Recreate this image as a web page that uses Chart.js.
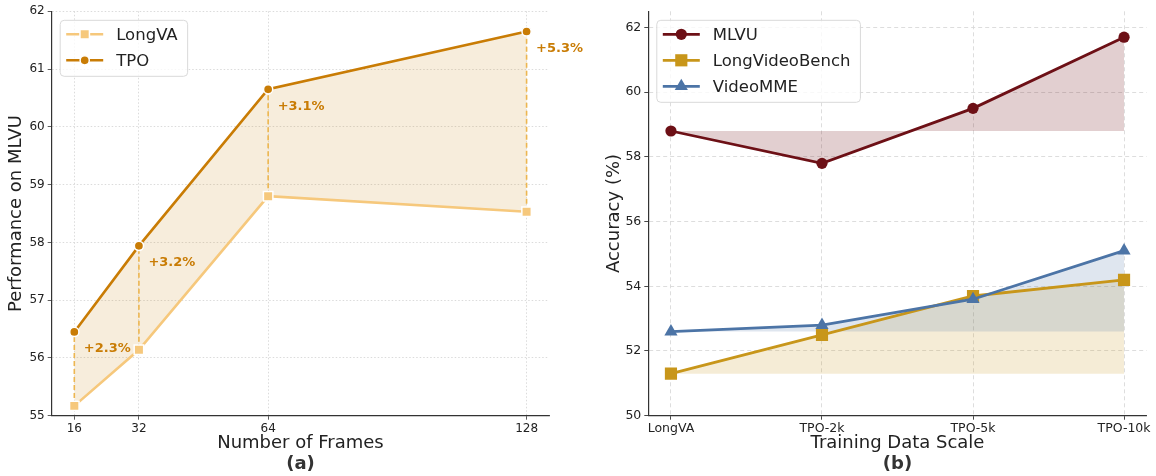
<!DOCTYPE html>
<html>
<head>
<meta charset="utf-8">
<script src="https://cdn.jsdelivr.net/npm/chart.js@4.4.1/dist/chart.umd.min.js"></script>
<style>
  html, body { margin: 0; padding: 0; background: #fff; }
  #wrap { position: relative; width: 1156px; height: 476px; }
  canvas { position: absolute; top: 0; }
  #chartA { left: 0; z-index: 2; }
  #chartB { left: 578px; z-index: 1; }
</style>
</head>
<body>
<div id="wrap">
  <canvas id="chartA" width="610" height="476"></canvas>
  <canvas id="chartB" width="578" height="476"></canvas>
</div>
<script>
// (a) number of frames
const frames = [16, 32, 64, 128];
const longvaScores = [55.17, 56.14, 58.8, 58.53];
const tpoScores = [56.45, 57.94, 60.65, 61.65];
const gainLabels = ["+2.3%", "+3.2%", "+3.1%", "+5.3%"];

// (b) training data scale
const scaleLabels = ["LongVA", "TPO-2k", "TPO-5k", "TPO-10k"];
const mlvuScores = [58.8, 57.8, 59.5, 61.7];
const longVideoBenchScores = [51.3, 52.5, 53.7, 54.2];
const videoMMEScores = [52.6, 52.8, 53.6, 55.1];

Chart.defaults.font.family = "'DejaVu Sans', sans-serif";
Chart.defaults.color = "#222";

function marker(ctx, style, r, x, y) {
  ctx.beginPath();
  if (style === "rect") {
    const s = r * Math.SQRT1_2;
    ctx.rect(x - s, y - s, 2 * s, 2 * s);
  } else if (style === "triangle") {
    let a = 0;
    ctx.moveTo(x + Math.sin(a) * r, y - Math.cos(a) * r);
    a += 2 * Math.PI / 3;
    ctx.lineTo(x + Math.sin(a) * r, y - Math.cos(a) * r);
    a += 2 * Math.PI / 3;
    ctx.lineTo(x + Math.sin(a) * r, y - Math.cos(a) * r);
    ctx.closePath();
  } else {
    ctx.arc(x, y, r, 0, Math.PI * 2);
  }
}

// legend box drawn inside the plot, top left
const insideLegend = {
  id: "insideLegend",
  afterDraw(chart) {
    const ctx = chart.ctx;
    const area = chart.chartArea;
    const items = chart.data.datasets;
    const x0 = area.left + 8.5, y0 = area.top + 9;
    ctx.save();
    ctx.font = "16.5px 'DejaVu Sans'";
    const textW = Math.max(...items.map(d => ctx.measureText(d.label).width));
    const w = 56 + textW + 10, h = items.length * 26 + 4;
    ctx.beginPath();
    ctx.roundRect(x0, y0, w, h, 4);
    ctx.fillStyle = "rgba(255,255,255,0.8)";
    ctx.fill();
    ctx.strokeStyle = "#d9d9d9";
    ctx.lineWidth = 1;
    ctx.stroke();
    items.forEach((d, i) => {
      const cy = y0 + 14 + i * 26;
      ctx.beginPath();
      ctx.moveTo(x0 + 6, cy);
      ctx.lineTo(x0 + 43, cy);
      ctx.strokeStyle = d.borderColor;
      ctx.lineWidth = d.borderWidth;
      ctx.stroke();
      marker(ctx, d.pointStyle, d.pointRadius, x0 + 24.5, cy);
      ctx.fillStyle = d.pointBackgroundColor;
      ctx.fill();
      if (d.pointBorderWidth > 0) {
        ctx.strokeStyle = d.pointBorderColor;
        ctx.lineWidth = d.pointBorderWidth;
        ctx.stroke();
      }
      ctx.fillStyle = "#222";
      ctx.textAlign = "left";
      ctx.textBaseline = "middle";
      ctx.fillText(d.label, x0 + 56, cy + 1);
    });
    ctx.restore();
  }
};

// dashed gap lines + gain labels for (a)
const gainMarks = {
  id: "gainMarks",
  beforeDatasetsDraw(chart) {
    const { ctx, scales: { x, y } } = chart;
    ctx.save();
    ctx.setLineDash([5, 3]);
    ctx.strokeStyle = "#EDB650";
    ctx.lineWidth = 1.6;
    frames.forEach((f, i) => {
      const px = x.getPixelForValue(f);
      ctx.beginPath();
      ctx.moveTo(px, y.getPixelForValue(longvaScores[i]));
      ctx.lineTo(px, y.getPixelForValue(tpoScores[i]));
      ctx.stroke();
    });
    ctx.restore();
  },
  afterDatasetsDraw(chart) {
    const { ctx, scales: { x, y } } = chart;
    ctx.save();
    ctx.font = "bold 13px 'DejaVu Sans'";
    ctx.fillStyle = "#C97C05";
    ctx.textAlign = "left";
    ctx.textBaseline = "middle";
    gainLabels.forEach((t, i) => {
      ctx.fillText(t, x.getPixelForValue(frames[i]) + 9.5, y.getPixelForValue(tpoScores[i]) + 17);
    });
    ctx.restore();
  }
};

const tickFont = { size: 12 };

new Chart(document.getElementById("chartA"), {
  type: "line",
  data: {
    datasets: [
      {
        label: "LongVA",
        data: frames.map((f, i) => ({ x: f, y: longvaScores[i] })),
        borderColor: "#F6C87C",
        backgroundColor: "#F6C87C",
        borderWidth: 2.6,
        pointStyle: "rect",
        pointRadius: 6.7,
        pointBackgroundColor: "#F6C87C",
        pointBorderColor: "#ffffff",
        pointBorderWidth: 1.5,
        tension: 0,
        fill: false
      },
      {
        label: "TPO",
        data: frames.map((f, i) => ({ x: f, y: tpoScores[i] })),
        borderColor: "#C97C05",
        backgroundColor: "rgba(201,124,5,0.14)",
        borderWidth: 2.6,
        pointStyle: "circle",
        pointRadius: 4.6,
        pointBackgroundColor: "#C97C05",
        pointBorderColor: "#ffffff",
        pointBorderWidth: 1.5,
        tension: 0,
        fill: { target: 0 }
      }
    ]
  },
  options: {
    responsive: false,
    animation: false,
    devicePixelRatio: 1,
    layout: { padding: { left: 0, right: 60.8, top: 11.3, bottom: 0.6 } },
    plugins: {
      legend: { display: false },
      tooltip: { enabled: false },
      filler: { drawTime: "beforeDatasetsDraw" },
      title: {
        display: true, position: "bottom", text: "(a)", fullSize: false,
        font: { size: 18, weight: "bold" }, padding: 0, color: "#333"
      }
    },
    scales: {
      x: {
        type: "linear",
        min: 10.4,
        max: 133.6,
        afterBuildTicks: s => { s.ticks = frames.map(v => ({ value: v })); },
        afterFit: s => { s.height = 38.1; },
        ticks: { font: tickFont, color: "#222", padding: 2, maxRotation: 0 },
        grid: { color: "#d2d2d2", lineWidth: 0.8, tickColor: "#333", tickLength: 4, tickBorderDash: [] },
        border: { display: true, color: "#333", width: 1.2, dash: [1.5, 2] },
        title: { display: true, text: "Number of Frames", font: { size: 18 }, padding: { top: 0, bottom: 0 }, color: "#222" }
      },
      y: {
        min: 55,
        max: 62,
        afterFit: s => { s.width = 51.7; },
        ticks: { stepSize: 1, font: tickFont, color: "#222", padding: 3 },
        grid: { color: "#d2d2d2", lineWidth: 0.8, tickColor: "#333", tickLength: 4, tickBorderDash: [] },
        border: { display: true, color: "#333", width: 1.2, dash: [1.5, 2] },
        title: { display: true, text: "Performance on MLVU", font: { size: 18 }, padding: { top: 6, bottom: 0 }, color: "#222" }
      }
    }
  },
  plugins: [gainMarks, insideLegend]
});

const seriesB = [
  { label: "MLVU", values: mlvuScores, color: "#6D1016", fillColor: "rgba(109,16,22,0.2)", style: "circle", r: 5.6, order: 0 },
  { label: "LongVideoBench", values: longVideoBenchScores, color: "#C8961A", fillColor: "rgba(200,150,26,0.18)", style: "rect", r: 8.6, order: 2 },
  { label: "VideoMME", values: videoMMEScores, color: "#4C74A6", fillColor: "rgba(76,116,166,0.18)", style: "triangle", r: 7.6, order: 1 }
];

new Chart(document.getElementById("chartB"), {
  type: "line",
  data: {
    datasets: seriesB.map(s => ({
      label: s.label,
      data: s.values.map((v, i) => ({ x: i, y: v })),
      borderColor: s.color,
      backgroundColor: s.fillColor,
      borderWidth: 2.8,
      pointStyle: s.style,
      pointRadius: s.r,
      pointBackgroundColor: s.color,
      pointBorderColor: s.color,
      pointBorderWidth: 0,
      tension: 0,
      order: s.order,
      fill: { value: s.values[0] }
    }))
  },
  options: {
    responsive: false,
    animation: false,
    devicePixelRatio: 1,
    layout: { padding: { left: 20, right: 9.3, top: 11.3, bottom: 0.6 } },
    plugins: {
      legend: { display: false },
      tooltip: { enabled: false },
      filler: { drawTime: "beforeDatasetsDraw" },
      title: {
        display: true, position: "bottom", text: "(b)", fullSize: false,
        font: { size: 18, weight: "bold" }, padding: 0, color: "#333"
      }
    },
    scales: {
      x: {
        type: "linear",
        min: -0.15,
        max: 3.15,
        afterBuildTicks: s => { s.ticks = scaleLabels.map((l, i) => ({ value: i })); },
        afterFit: s => { s.height = 38.1; },
        ticks: { font: { size: 12.5 }, color: "#222", padding: 2, maxRotation: 0, callback: v => scaleLabels[v] },
        grid: { color: "#d9d9d9", lineWidth: 0.9, tickColor: "#333", tickLength: 4, tickBorderDash: [] },
        border: { display: true, color: "#333", width: 1.2, dash: [4, 3] },
        title: { display: true, text: "Training Data Scale", font: { size: 18 }, padding: { top: 0, bottom: 0 }, color: "#222" }
      },
      y: {
        min: 50,
        max: 62.5,
        afterFit: s => { s.width = 50.3; },
        ticks: { stepSize: 2, includeBounds: false, font: { size: 12.5 }, color: "#222", padding: 3 },
        grid: { color: "#d9d9d9", lineWidth: 0.9, tickColor: "#333", tickLength: 4, tickBorderDash: [] },
        border: { display: true, color: "#333", width: 1.2, dash: [4, 3] },
        title: { display: true, text: "Accuracy (%)", font: { size: 18 }, padding: { top: 6, bottom: 0 }, color: "#222" }
      }
    }
  },
  plugins: [insideLegend]
});
</script>
</body>
</html>
